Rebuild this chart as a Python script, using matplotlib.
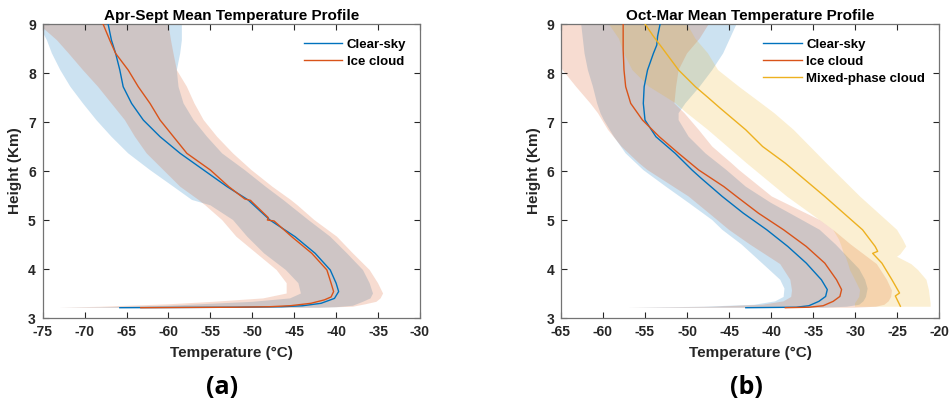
import numpy as np
import matplotlib
matplotlib.use("Agg")
import matplotlib.pyplot as plt

plt.rcParams['font.family'] = ['Liberation Sans', 'DejaVu Sans']
plt.rcParams['font.weight'] = 'bold'
plt.rcParams['axes.unicode_minus'] = False

BLUE = (0.0, 0.447, 0.741)
RED = (0.85, 0.325, 0.098)
YELLOW = (0.929, 0.694, 0.125)
AXCOL = (0.15, 0.15, 0.15)

# ---- (a) Apr-Sept : mean profiles ----
a_clear_h = [3.21, 3.22, 3.23, 3.25, 3.30, 3.40, 3.54, 3.71, 3.98, 4.32, 4.66, 5.00, 5.41,
             5.68, 6.02, 6.36, 6.70, 7.04, 7.38, 7.72, 8.06, 8.40, 8.67, 9.00]
a_clear_t = [-65.8, -52.0, -46.5, -44.0, -41.8, -40.2, -39.7, -40.0, -40.7, -42.5, -44.9, -47.9, -50.5,
             -53.0, -55.8, -58.6, -61.0, -63.0, -64.4, -65.4, -65.8, -66.3, -66.8, -67.2]
a_ice_h = [3.21, 3.22, 3.23, 3.25, 3.30, 3.37, 3.43, 3.54, 3.71, 3.98, 4.32, 4.66, 4.98, 5.00,
           5.05, 5.38, 5.40, 5.43, 5.68, 6.02, 6.36, 6.70, 7.04, 7.38, 7.72, 8.06, 8.40, 8.67, 9.00]
a_ice_t = [-63.3, -52.0, -48.0, -45.5, -43.0, -41.4, -40.6, -40.3, -40.6, -41.1, -42.9, -45.3, -47.4, -48.2,
           -48.1, -50.1, -50.2, -50.9, -52.8, -55.0, -57.8, -59.4, -61.0, -62.2, -63.6, -64.8, -66.3, -67.0, -67.8]

# ---- (a) spread bands ----
a_clear_band_h = [3.21, 3.22, 3.25, 3.33, 3.40, 3.50, 3.71, 3.98, 4.32, 4.66, 5.00, 5.30, 5.41,
                  5.68, 6.02, 6.36, 6.70, 7.04, 7.38, 7.72, 8.06, 8.40, 8.67, 9.00]
a_clear_lo = [-73.0, -68.0, -60.0, -50.0, -45.5, -44.2, -44.5, -46.0, -48.6, -50.6, -52.3, -55.0, -57.2,
              -59.4, -62.2, -64.8, -66.8, -68.6, -70.2, -71.7, -72.9, -73.9, -74.5, -75.5]
a_clear_hi = [-42.0, -40.0, -38.0, -36.8, -35.9, -35.6, -36.0, -36.8, -38.7, -40.7, -43.3, -45.5, -46.3,
              -48.4, -50.9, -53.6, -55.4, -57.0, -58.2, -58.8, -59.0, -58.6, -58.4, -58.4]
a_ice_band_h = [3.21, 3.23, 3.28, 3.33, 3.40, 3.50, 3.71, 3.98, 4.32, 4.66, 5.00, 5.30, 5.41,
                5.68, 6.02, 6.36, 6.70, 7.04, 7.38, 7.72, 8.06, 8.40, 8.67, 9.00]
a_ice_lo = [-73.0, -68.0, -60.0, -54.7, -48.7, -45.9, -45.9, -47.1, -49.5, -51.9, -53.6, -55.6, -56.4,
            -58.6, -60.6, -62.6, -64.0, -65.2, -66.8, -68.4, -70.2, -71.9, -73.3, -75.5]
a_ice_hi = [-42.0, -38.0, -36.5, -35.2, -34.7, -34.4, -35.0, -36.0, -38.0, -39.9, -42.6, -44.6, -45.4,
            -47.6, -50.1, -52.3, -54.2, -55.8, -56.9, -57.8, -59.0, -59.4, -59.7, -60.0]

# ---- (b) Oct-Mar : mean profiles ----
b_clear_h = [3.21, 3.22, 3.25, 3.34, 3.44, 3.58, 3.78, 4.12, 4.46, 4.80, 5.14, 5.48, 5.85, 6.02,
             6.36, 6.70, 7.04, 7.38, 7.72, 8.06, 8.40, 8.57, 8.75, 9.00]
b_clear_t = [-43.0, -37.0, -35.5, -34.3, -33.5, -33.3, -34.0, -35.8, -38.0, -40.5, -43.3, -45.8, -48.3, -49.4,
             -51.4, -53.7, -55.0, -55.2, -55.1, -54.7, -54.0, -53.6, -53.5, -53.2]
b_ice_h = [3.21, 3.22, 3.25, 3.34, 3.44, 3.58, 3.78, 4.12, 4.46, 4.80, 5.14, 5.48, 5.68, 6.02,
           6.36, 6.70, 7.04, 7.38, 7.72, 8.06, 8.47, 9.00]
b_ice_t = [-38.3, -35.5, -33.8, -32.6, -31.8, -31.6, -32.2, -33.6, -35.8, -38.5, -41.5, -44.1, -45.6, -48.6,
           -51.0, -53.3, -55.3, -56.7, -57.3, -57.5, -57.6, -57.6]
b_mix_h = [3.24, 3.45, 3.51, 3.78, 4.12, 4.32, 4.36, 4.46, 4.80, 5.48, 6.16, 6.50, 6.84, 7.29,
           7.50, 7.72, 8.06, 8.50, 8.75, 9.00]
b_mix_t = [-24.6, -25.2, -24.7, -25.6, -26.8, -27.9, -27.3, -27.6, -29.1, -33.6, -38.3, -41.0, -43.0, -46.1,
           -47.5, -49.0, -51.0, -52.9, -54.0, -55.0]

# ---- (b) spread bands ----
b_clear_band_h = [3.21, 3.23, 3.27, 3.34, 3.43, 3.60, 3.78, 4.00, 4.50, 4.80, 5.00, 5.35, 5.68, 6.02,
                  6.36, 6.70, 7.04, 7.18, 7.38, 7.72, 8.06, 8.40, 9.00]
b_clear_lo = [-57.0, -48.0, -42.0, -39.5, -38.5, -38.4, -38.9, -40.3, -43.5, -45.8, -47.0, -49.8, -52.5, -55.2,
              -57.3, -58.7, -59.9, -60.3, -60.7, -61.2, -61.8, -62.2, -62.6]
b_clear_hi = [-34.0, -31.0, -29.5, -29.0, -28.7, -28.5, -28.8, -29.5, -32.3, -34.2, -36.3, -40.0, -43.0, -45.3,
              -47.8, -49.8, -51.0, -51.0, -50.2, -48.5, -47.0, -45.7, -44.1]
b_ice_band_h = [3.21, 3.23, 3.27, 3.34, 3.43, 3.56, 3.78, 4.10, 4.50, 4.80, 5.00, 5.48, 6.02, 6.16,
                6.50, 6.84, 7.18, 7.38, 7.72, 8.06, 8.40, 8.70, 9.00]
b_ice_lo = [-57.0, -47.0, -41.0, -38.5, -37.6, -37.5, -37.7, -38.9, -42.5, -45.0, -46.4, -49.8, -54.7, -55.7,
            -57.8, -59.4, -60.6, -61.5, -63.2, -64.8, -65.8, -66.3, -66.8]
b_ice_hi = [-30.0, -27.5, -26.5, -26.0, -25.7, -25.6, -26.2, -27.4, -30.5, -32.6, -34.2, -39.9, -43.8, -44.7,
            -47.0, -48.6, -50.3, -51.5, -51.3, -51.0, -50.0, -48.5, -47.4]
b_mix_band_h = [3.23, 3.30, 3.43, 3.57, 3.78, 3.98, 4.10, 4.25, 4.30, 4.46, 4.60, 4.80, 5.48, 6.16,
                6.84, 7.18, 7.40, 7.72, 8.06, 8.40, 8.70, 9.00]
b_mix_lo = [-30.0, -30.0, -29.5, -29.4, -30.0, -30.6, -30.8, -31.1, -31.3, -31.6, -31.9, -32.6, -38.1, -42.9,
            -47.5, -50.0, -51.5, -54.5, -56.5, -57.5, -58.1, -59.3]
b_mix_hi = [-21.0, -21.0, -21.1, -21.2, -21.5, -22.5, -23.3, -25.0, -24.6, -23.9, -24.3, -25.0, -29.4, -33.4,
            -37.3, -39.6, -41.3, -43.8, -46.3, -47.5, -49.0, -50.0]


def band(ax, h, lo, hi, color):
    h = np.asarray(h)
    xs = np.concatenate([np.asarray(lo), np.asarray(hi)[::-1]])
    ys = np.concatenate([h, h[::-1]])
    ax.fill(xs, ys, color=color, alpha=0.2, lw=0, zorder=1)


def style(ax, title, xlim, xticks):
    ax.set_xlim(*xlim)
    ax.set_ylim(3, 9)
    ax.set_xticks(xticks)
    ax.set_yticks(range(3, 10))
    ax.tick_params(direction='in', top=True, right=True, length=4, width=0.8,
                   colors=AXCOL, labelsize=10, pad=5)
    for lab in ax.get_xticklabels() + ax.get_yticklabels():
        lab.set_fontweight('bold')
        lab.set_color(AXCOL)
    for s in ax.spines.values():
        s.set_color((0.45, 0.45, 0.45))
        s.set_linewidth(0.9)
    ax.set_title(title, fontsize=11, fontweight='bold', pad=3, color='black')
    ax.set_xlabel('Temperature (°C)', fontsize=11, fontweight='bold', color=AXCOL, labelpad=5)
    ax.set_ylabel('Height (Km)', fontsize=11, fontweight='bold', color=AXCOL, labelpad=4)


def legend(ax):
    ax.legend(loc='upper right', frameon=False, handlelength=2.9,
              handletextpad=0.35, labelspacing=0.35, bbox_to_anchor=(0.995, 0.99),
              prop={'weight': 'bold', 'size': 9.5})


fig = plt.figure(figsize=(9.51, 4.05), dpi=100)
ax1 = fig.add_axes([0.0449, 0.2148, 0.3967, 0.7259])
ax2 = fig.add_axes([0.5899, 0.2148, 0.3975, 0.7259])

band(ax1, a_clear_band_h, a_clear_lo, a_clear_hi, BLUE)
band(ax1, a_ice_band_h, a_ice_lo, a_ice_hi, RED)
ax1.plot(a_clear_t, a_clear_h, color=BLUE, lw=1.0, label='Clear-sky', zorder=3)
ax1.plot(a_ice_t, a_ice_h, color=RED, lw=1.0, label='Ice cloud', zorder=3)
style(ax1, 'Apr-Sept Mean Temperature Profile', (-75, -30), range(-75, -29, 5))
legend(ax1)

band(ax2, b_clear_band_h, b_clear_lo, b_clear_hi, BLUE)
band(ax2, b_ice_band_h, b_ice_lo, b_ice_hi, RED)
band(ax2, b_mix_band_h, b_mix_lo, b_mix_hi, YELLOW)
ax2.plot(b_clear_t, b_clear_h, color=BLUE, lw=1.0, label='Clear-sky', zorder=3)
ax2.plot(b_ice_t, b_ice_h, color=RED, lw=1.0, label='Ice cloud', zorder=3)
ax2.plot(b_mix_t, b_mix_h, color=YELLOW, lw=1.0, label='Mixed-phase cloud', zorder=3)
style(ax2, 'Oct-Mar Mean Temperature Profile', (-65, -20), range(-65, -19, 5))
legend(ax2)

fig.text(222 / 951, 1 - 387 / 405, '(a)', ha='center', va='center', fontsize=18,
         fontweight='bold', family='Open Sans')
fig.text(746 / 951, 1 - 387 / 405, '(b)', ha='center', va='center', fontsize=18,
         fontweight='bold', family='Open Sans')

fig.savefig('out.png', dpi=100)
